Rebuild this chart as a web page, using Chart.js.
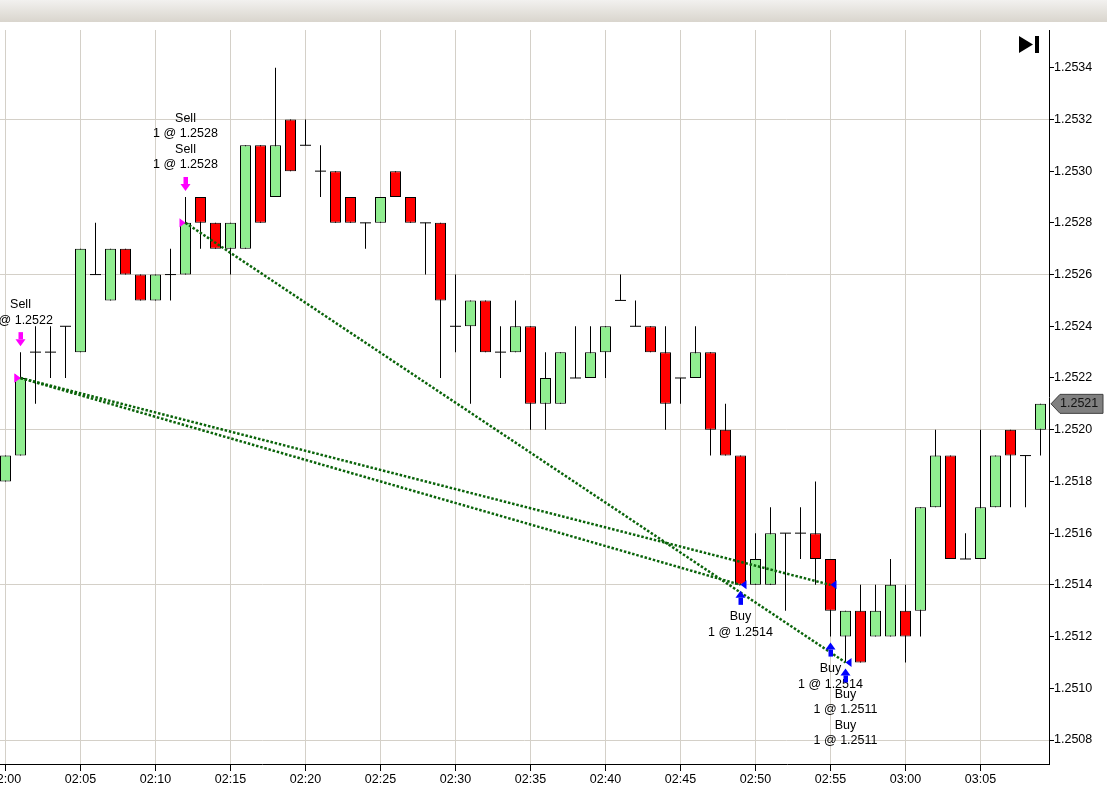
<!DOCTYPE html>
<html>
<head>
<meta charset="utf-8">
<script src="https://cdn.jsdelivr.net/npm/chart.js@4.4.0/dist/chart.umd.min.js"></script>
<style>
  html, body { margin: 0; padding: 0; background: #fff; }
  canvas { display: block; }
</style>
</head>
<body>
<canvas id="tradeChart" width="1107" height="796"></canvas>
<script>
// one-minute bars, 02:00 - 03:09
const times = ['02:00','02:01','02:02','02:03','02:04','02:05','02:06','02:07','02:08','02:09',
  '02:10','02:11','02:12','02:13','02:14','02:15','02:16','02:17','02:18','02:19',
  '02:20','02:21','02:22','02:23','02:24','02:25','02:26','02:27','02:28','02:29',
  '02:30','02:31','02:32','02:33','02:34','02:35','02:36','02:37','02:38','02:39',
  '02:40','02:41','02:42','02:43','02:44','02:45','02:46','02:47','02:48','02:49',
  '02:50','02:51','02:52','02:53','02:54','02:55','02:56','02:57','02:58','02:59',
  '03:00','03:01','03:02','03:03','03:04','03:05','03:06','03:07','03:08','03:09'];
const open = [1.2518,1.2519,1.2523,1.2523,1.2524,1.2523,1.2526,1.2525,1.2527,1.2526,
  1.2525,1.2526,1.2526,1.2529,1.2528,1.2527,1.2527,1.2531,1.2529,1.2532,
  1.2531,1.2530,1.2530,1.2529,1.2528,1.2528,1.2530,1.2529,1.2528,1.2528,
  1.2524,1.2524,1.2525,1.2523,1.2523,1.2524,1.2521,1.2521,1.2522,1.2522,
  1.2523,1.2525,1.2524,1.2524,1.2523,1.2522,1.2522,1.2523,1.2520,1.2519,
  1.2514,1.2514,1.2516,1.2516,1.2516,1.2515,1.2512,1.2513,1.2512,1.2512,
  1.2513,1.2513,1.2517,1.2519,1.2515,1.2515,1.2517,1.2520,1.2519,1.2520];
const high = [1.2519,1.2523,1.2524,1.2524,1.2524,1.2527,1.2528,1.2527,1.2527,1.2526,
  1.2526,1.2527,1.2529,1.2529,1.2528,1.2528,1.2531,1.2531,1.2534,1.2532,
  1.2532,1.2531,1.2530,1.2529,1.2528,1.2529,1.2530,1.2529,1.2528,1.2528,
  1.2526,1.2525,1.2525,1.2524,1.2525,1.2524,1.2523,1.2523,1.2524,1.2524,
  1.2524,1.2526,1.2525,1.2524,1.2524,1.2522,1.2524,1.2523,1.2521,1.2519,
  1.2516,1.2517,1.2516,1.2517,1.2518,1.2515,1.2513,1.2514,1.2514,1.2515,
  1.2514,1.2517,1.2520,1.2519,1.2516,1.2520,1.2519,1.2520,1.2519,1.2521];
const low = [1.2518,1.2519,1.2521,1.2522,1.2522,1.2523,1.2526,1.2525,1.2526,1.2525,
  1.2525,1.2525,1.2526,1.2527,1.2527,1.2526,1.2527,1.2528,1.2529,1.2530,
  1.2531,1.2529,1.2528,1.2528,1.2527,1.2528,1.2529,1.2528,1.2526,1.2522,
  1.2523,1.2521,1.2523,1.2522,1.2523,1.2520,1.2520,1.2521,1.2522,1.2522,
  1.2522,1.2525,1.2524,1.2523,1.2520,1.2521,1.2522,1.2519,1.2519,1.2514,
  1.2514,1.2514,1.2513,1.2515,1.2514,1.2512,1.2511,1.2511,1.2512,1.2512,
  1.2511,1.2512,1.2517,1.2515,1.2515,1.2515,1.2517,1.2517,1.2517,1.2519];
const close = [1.2519,1.2522,1.2523,1.2523,1.2524,1.2527,1.2526,1.2527,1.2526,1.2525,
  1.2526,1.2526,1.2528,1.2528,1.2527,1.2528,1.2531,1.2528,1.2531,1.2530,
  1.2531,1.2530,1.2528,1.2528,1.2528,1.2529,1.2529,1.2528,1.2528,1.2525,
  1.2524,1.2525,1.2523,1.2523,1.2524,1.2521,1.2522,1.2523,1.2522,1.2523,
  1.2524,1.2525,1.2524,1.2523,1.2521,1.2522,1.2523,1.2520,1.2519,1.2514,
  1.2515,1.2516,1.2516,1.2516,1.2515,1.2513,1.2513,1.2511,1.2513,1.2514,
  1.2512,1.2517,1.2519,1.2515,1.2515,1.2517,1.2519,1.2519,1.2519,1.2521];

const xTickLabels = ['02:00','02:05','02:10','02:15','02:20','02:25','02:30','02:35',
  '02:40','02:45','02:50','02:55','03:00','03:05'];
const yTickLabels = ['1.2508','1.2510','1.2512','1.2514','1.2516','1.2518','1.2520',
  '1.2522','1.2524','1.2526','1.2528','1.2530','1.2532','1.2534'];

// round trips drawn as dotted lines
const tradeEntryTimes = ['02:01','02:01','02:12'];
const tradeEntryPrices = [1.2522,1.2522,1.2528];
const tradeExitTimes = ['02:49','02:55','02:56'];
const tradeExitPrices = [1.2514,1.2514,1.2511];

// executions
const sellTimes = ['02:01','02:12','02:12'];
const sellPrices = [1.2522,1.2528,1.2528];
const buyTimes = ['02:49','02:55','02:56','02:56'];
const buyPrices = [1.2514,1.2514,1.2511,1.2511];

const GREEN = '#90ee90', RED = '#ff0000', GRID = '#d4d0c8';
const FONT = "'Liberation Sans', Arial, sans-serif";

function toMin(t) {
  const [h, m] = t.split(':').map(Number);
  return h * 60 + m - 120;
}

const bodies = [], wicks = [], dojis = [];
times.forEach((t, i) => {
  const x = toMin(t);
  if (high[i] > low[i]) wicks.push({ x, y: [low[i], high[i]] });
  if (open[i] !== close[i]) bodies.push({ x, y: [open[i], close[i]] });
  else dojis.push({ x, y: open[i] });
});

const tradeLines = tradeEntryTimes.map((t, i) => ({
  type: 'line',
  data: [{ x: toMin(t), y: tradeEntryPrices[i] }, { x: toMin(tradeExitTimes[i]), y: tradeExitPrices[i] }],
  borderColor: '#0a640a',
  borderWidth: 2.5,
  borderDash: [2.5, 1.8],
  pointRadius: 0,
  fill: false,
  order: 0
}));

function groupBy(ts, ps) {
  const out = {};
  ts.forEach((t, i) => { (out[t] = out[t] || []).push(ps[i]); });
  return out;
}

function arrow(ctx, cx, top, len, up, color) {
  ctx.fillStyle = color;
  ctx.beginPath();
  if (up) {
    ctx.moveTo(cx, top);
    ctx.lineTo(cx + 5, top + 7);
    ctx.lineTo(cx - 5, top + 7);
    ctx.closePath();
    ctx.fill();
    ctx.fillRect(cx - 2, top + 7, 4.5, len - 7);
  } else {
    ctx.fillRect(cx - 2, top, 4.5, len - 7);
    ctx.moveTo(cx, top + len);
    ctx.lineTo(cx + 5, top + len - 7);
    ctx.lineTo(cx - 5, top + len - 7);
    ctx.closePath();
    ctx.fill();
  }
}

function triangle(ctx, tipX, tipY, dir, color) {
  ctx.fillStyle = color;
  ctx.beginPath();
  ctx.moveTo(tipX, tipY);
  ctx.lineTo(tipX - dir * 6, tipY - 4.5);
  ctx.lineTo(tipX - dir * 6, tipY + 4.5);
  ctx.closePath();
  ctx.fill();
}

const framePlugin = {
  id: 'frame',
  beforeDraw(chart) {
    const ctx = chart.ctx;
    ctx.save();
    ctx.fillStyle = '#fff';
    ctx.fillRect(0, 0, chart.width, chart.height);
    const g = ctx.createLinearGradient(0, 0, 0, 22);
    g.addColorStop(0, '#f2f1ef');
    g.addColorStop(1, '#d9d5cd');
    ctx.fillStyle = g;
    ctx.fillRect(0, 0, chart.width, 22);
    ctx.restore();
  },
  afterDraw(chart) {
    const { ctx, scales: { y }, chartArea } = chart;
    ctx.save();
    // last price marker
    const last = close[close.length - 1];
    const py = y.getPixelForValue(last);
    const lx = chartArea.right + 2;
    ctx.beginPath();
    ctx.moveTo(lx, py);
    ctx.lineTo(lx + 9, py - 9.5);
    ctx.lineTo(1103, py - 9.5);
    ctx.lineTo(1103, py + 9.5);
    ctx.lineTo(lx + 9, py + 9.5);
    ctx.closePath();
    ctx.fillStyle = '#808080';
    ctx.fill();
    ctx.strokeStyle = '#404040';
    ctx.lineWidth = 1;
    ctx.stroke();
    ctx.fillStyle = '#111';
    ctx.font = '12.5px ' + FONT;
    ctx.textAlign = 'left';
    ctx.textBaseline = 'middle';
    ctx.fillText(last.toFixed(4), lx + 9, py);
    // "scroll to end" glyph
    ctx.fillStyle = '#000';
    ctx.beginPath();
    ctx.moveTo(1019, 36);
    ctx.lineTo(1033, 44.5);
    ctx.lineTo(1019, 53);
    ctx.closePath();
    ctx.fill();
    ctx.fillRect(1035, 36, 4, 17);
    ctx.restore();
  }
};

const execPlugin = {
  id: 'executions',
  afterDatasetsDraw(chart) {
    const { ctx, scales: { x, y } } = chart;
    ctx.save();
    ctx.font = '12.5px ' + FONT;
    ctx.textAlign = 'center';
    ctx.textBaseline = 'middle';
    const lh = 15.5;

    const sells = groupBy(sellTimes, sellPrices);
    Object.keys(sells).forEach(t => {
      const i = times.indexOf(t);
      const cx = x.getPixelForValue(toMin(t));
      const top = y.getPixelForValue(high[i]) - 20;
      arrow(ctx, cx, top, 14, false, '#ff00ff');
      const ps = sells[t];
      ctx.fillStyle = '#000';
      ps.forEach((p, k) => {
        const base = top - 12 - (ps.length - 1 - k) * 2 * lh;
        ctx.fillText('1 @ ' + p.toFixed(4), cx, base);
        ctx.fillText('Sell', cx, base - lh);
      });
    });

    const buys = groupBy(buyTimes, buyPrices);
    Object.keys(buys).forEach(t => {
      const i = times.indexOf(t);
      const cx = x.getPixelForValue(toMin(t));
      const top = y.getPixelForValue(low[i]) + 6;
      arrow(ctx, cx, top, 14, true, '#0000ff');
      ctx.fillStyle = '#000';
      buys[t].forEach((p, k) => {
        const base = top + 26 + k * 2 * lh;
        ctx.fillText('Buy', cx, base);
        ctx.fillText('1 @ ' + p.toFixed(4), cx, base + lh);
      });
    });

    tradeEntryTimes.forEach((t, i) => {
      triangle(ctx, x.getPixelForValue(toMin(t)), y.getPixelForValue(tradeEntryPrices[i]), 1, '#ff00ff');
      triangle(ctx, x.getPixelForValue(toMin(tradeExitTimes[i])), y.getPixelForValue(tradeExitPrices[i]), -1, '#0000ff');
    });
    ctx.restore();
  }
};

const ctx = document.getElementById('tradeChart').getContext('2d');
const chart = new Chart(ctx, {
  type: 'bar',
  data: {
    datasets: [
      ...tradeLines,
      {
        type: 'bar',
        data: bodies,
        barThickness: 11,
        grouped: false,
        borderWidth: 1,
        borderColor: '#000',
        borderSkipped: false,
        inflateAmount: 0,
        backgroundColor: c => (c.raw && c.raw.y[1] > c.raw.y[0]) ? GREEN : RED,
        order: 1
      },
      {
        type: 'scatter',
        data: dojis,
        pointStyle: 'line',
        pointRadius: 5.5,
        borderWidth: 1,
        borderColor: '#000',
        order: 2
      },
      {
        type: 'bar',
        data: wicks,
        barThickness: 1,
        grouped: false,
        borderWidth: 0,
        inflateAmount: 0,
        backgroundColor: '#000',
        order: 3
      }
    ]
  },
  options: {
    responsive: false,
    animation: false,
    events: [],
    layout: { autoPadding: false, padding: { top: 30, left: 0, right: 0, bottom: 0 } },
    plugins: { legend: { display: false }, tooltip: { enabled: false } },
    scales: {
      x: {
        type: 'linear',
        offset: false,
        min: -5.5 / 15,
        max: -5.5 / 15 + 1049 / 15,
        afterBuildTicks: s => { s.ticks = xTickLabels.map(l => ({ value: toMin(l) })); },
        afterFit: s => { s.height = 32; s.paddingLeft = 0; s.paddingRight = 0; },
        grid: { color: GRID, tickColor: '#000', tickLength: 7, offset: false },
        border: { color: '#000', width: 1 },
        ticks: {
          autoSkip: false, maxRotation: 0, padding: 1, color: '#000',
          font: { family: FONT, size: 12.5 },
          callback: (v, i) => xTickLabels[i]
        }
      },
      y: {
        type: 'linear',
        position: 'right',
        beginAtZero: false,
        min: 1.2507072,
        max: 1.2535458,
        afterBuildTicks: s => { s.ticks = yTickLabels.map(l => ({ value: Number(l) })); },
        afterFit: s => { s.width = 58; s.paddingTop = 0; s.paddingBottom = 0; },
        grid: {
          color: c => (c.index % 3 === 0 ? GRID : 'rgba(0,0,0,0)'),
          tickColor: '#000', tickLength: 5
        },
        border: { color: '#000', width: 1 },
        ticks: {
          padding: 0, color: '#000',
          font: { family: FONT, size: 12.5 },
          callback: (v, i) => yTickLabels[i]
        }
      }
    }
  },
  plugins: [framePlugin, execPlugin]
});
</script>
</body>
</html>
